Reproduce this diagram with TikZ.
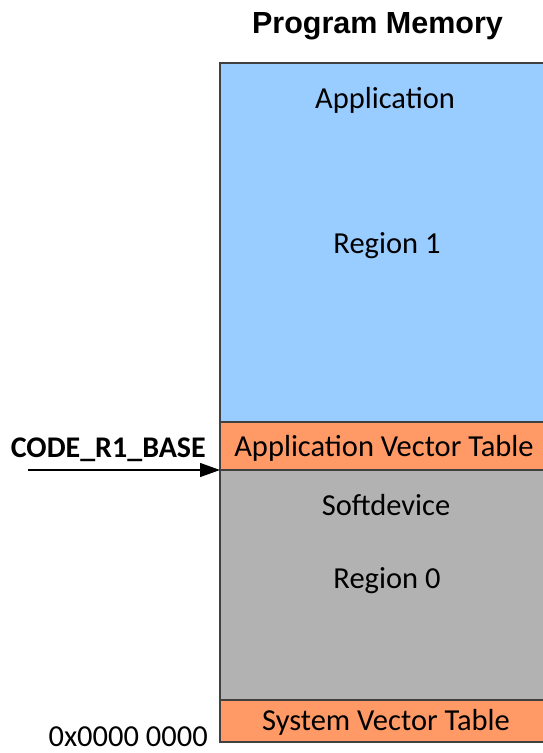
\documentclass[tikz,border=0pt]{standalone}
\usepackage{fontspec}
\setmainfont{Carlito}
\newfontfamily\titlefont{Liberation Sans}
\usetikzlibrary{arrows.meta, positioning}
\definecolor{appblue}{HTML}{99CCFF}
\definecolor{vecorange}{HTML}{FF9966}
\definecolor{softgray}{HTML}{B2B2B2}
\tikzstyle{arrow} = [line width=1.3pt, -{Triangle[length=20pt,width=14pt]}]

\begin{document}
\begin{tikzpicture}[
        x=1pt, y=-1pt,
        every node/.style={font=\fontsize{30.5}{33}\selectfont},
        region/.style={rectangle, draw=black!75, line width=1.3pt,
            minimum width=328pt, inner sep=0pt, outer sep=0pt},
        lbl/.style={anchor=base, inner sep=0pt}
    ]
    \useasboundingbox (0,0) rectangle (543,753);

    \node (title) [lbl, font=\titlefont\bfseries\fontsize{30.5}{33}\selectfont]
        at (377.5,33.5) {Program Memory};

    % memory regions, top to bottom
    \node (app)  [region, fill=appblue, minimum height=359pt, anchor=north west]
        at (220,63) {};
    \node (avt)  [region, fill=vecorange, minimum height=48pt, below=0pt of app] {};
    \node (soft) [region, fill=softgray, minimum height=230pt, below=0pt of avt] {};
    \node (svt)  [region, fill=vecorange, minimum height=42pt, below=0pt of soft] {};

    \node (apptxt)  [lbl] at (385,108) {Application};
    \node (r1txt)   [lbl] at (387,253) {Region 1};
    \node (avttxt)  [lbl] at (384,456) {Application Vector Table};
    \node (softtxt) [lbl] at (386,515) {Softdevice};
    \node (r0txt)   [lbl] at (387,588) {Region 0};
    \node (svttxt)  [lbl] at (386,730) {System Vector Table};

    % addresses
    \node (r1label) [lbl, anchor=base east, font=\bfseries\fontsize{30}{33}\selectfont]
        at (206,457) {CODE\_R1\_BASE};
    \node (zero) [lbl, anchor=base east] at (208,746) {0x0000 0000};

    \coordinate (r1base) at (28,470);
    \draw [arrow] (r1base) -- (avt.south west);
\end{tikzpicture}
\end{document}
